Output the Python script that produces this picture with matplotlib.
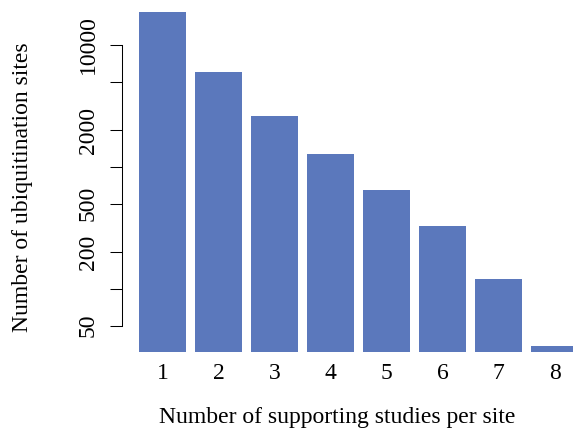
#!/usr/bin/env python3
# Bar chart of ubiquitination sites by number of supporting studies (log y)

import matplotlib
matplotlib.use("Agg")
import matplotlib.pyplot as plt
import numpy as np

# -----------------------------------------------------------------------------
# Data
# -----------------------------------------------------------------------------
studies = [1, 2, 3, 4, 5, 6, 7, 8]
site_counts = [18600, 6000, 2620, 1280, 650, 328, 121, 34]

ytick_values = [50, 100, 200, 500, 1000, 2000, 5000, 10000]
ytick_labels = ["50", "", "200", "500", "", "2000", "", "10000"]

BAR_COLOR = "#5B78BC"

plt.rcParams["font.family"] = ["Liberation Serif", "DejaVu Serif"]

# -----------------------------------------------------------------------------
# Figure geometry (pixels of a 573x437 canvas)
# -----------------------------------------------------------------------------
W, H = 573, 437
fig = plt.figure(figsize=(W / 100, H / 100), dpi=100)

ax_left, ax_bottom = 121.7, 351.5
ax = fig.add_axes([ax_left / W, (H - ax_bottom) / H,
                   (W - ax_left) / W, ax_bottom / H])

# log scale calibration: 10000 at y=45 px, 122 px per decade
px_decade = 122.0
y_low = 10 ** (4 - (ax_bottom - 45) / px_decade)
y_high = 10 ** (4 + 45 / px_decade)

# x calibration: bar 1 centred at 162.5 px, 56 px apart
x_left = 1 - (162.5 - ax_left) / 56
x_right = 1 + (W - 162.5) / 56

# bars start at the bottom of the plot region, tops at the counts
heights = np.array(site_counts, dtype=float) - y_low
ax.bar(studies, heights, width=47 / 56, bottom=y_low,
       color=BAR_COLOR, edgecolor="none")

ax.set_yscale("log")
ax.set_ylim(y_low, y_high)
ax.set_xlim(x_left, x_right)

ax.set_yticks(ytick_values)
ax.set_yticklabels(ytick_labels, rotation=90, va="center")
ax.yaxis.set_minor_locator(matplotlib.ticker.NullLocator())
ax.tick_params(axis="y", length=8.4, width=0.75, pad=8, labelsize=17)

ax.set_xticks(studies)
ax.set_xticklabels([str(s) for s in studies])
ax.tick_params(axis="x", length=0, pad=8, labelsize=17)

for side in ["top", "right", "bottom"]:
    ax.spines[side].set_visible(False)
ax.spines["left"].set_linewidth(0.75)
ax.spines["left"].set_bounds(50, 10000)

fig.text(337 / W, 1 - 418 / H, "Number of supporting studies per site",
         ha="center", va="center", fontsize=17)
fig.text(22.5 / W, 1 - 187 / H, "Number of ubiquitination sites",
         ha="center", va="center", rotation=90, fontsize=17)

fig.savefig("out.png", dpi=100)
